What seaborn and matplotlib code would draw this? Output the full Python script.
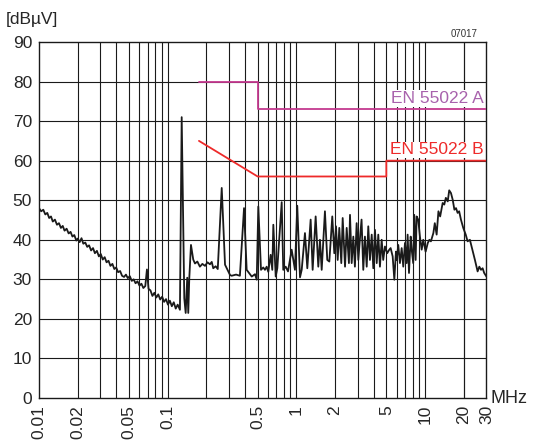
import numpy as np
import pandas as pd
import matplotlib
matplotlib.use('Agg')
import matplotlib.pyplot as plt
import seaborn as sns

freq = [0.0100, 0.0104, 0.0108, 0.0112, 0.0116, 0.0120, 0.0124, 0.0128, 0.0133, 0.0138,
        0.0143, 0.0148, 0.0153, 0.0158, 0.0164, 0.0170, 0.0176, 0.0182, 0.0188, 0.0195,
        0.0200, 0.0207, 0.0214, 0.0221, 0.0229, 0.0237, 0.0245, 0.0254, 0.0263, 0.0272,
        0.0282, 0.0292, 0.0302, 0.0313, 0.0324, 0.0335, 0.0347, 0.0359, 0.0372, 0.0385,
        0.0398, 0.0412, 0.0427, 0.0442, 0.0458, 0.0474, 0.0490, 0.0508, 0.0526, 0.0544,
        0.0563, 0.0583, 0.0604, 0.0625, 0.0647, 0.0670, 0.0690, 0.0710, 0.0735, 0.0761,
        0.0788, 0.0816, 0.0845, 0.0875, 0.0906, 0.0938, 0.0971, 0.1005, 0.1040, 0.1077,
        0.1115, 0.1155, 0.1196, 0.1245, 0.1285, 0.1346, 0.1380, 0.1419, 0.1445, 0.1472,
        0.1517, 0.158, 0.163, 0.170, 0.178, 0.186, 0.195, 0.204, 0.213, 0.220,
        0.226, 0.236, 0.245, 0.263, 0.279, 0.305, 0.314, 0.340, 0.364, 0.392,
        0.411, 0.450, 0.477, 0.492, 0.506, 0.531, 0.553, 0.570, 0.588, 0.605,
        0.631, 0.650, 0.662, 0.691, 0.711, 0.769, 0.791, 0.826, 0.861, 0.919,
        0.975, 1.016, 1.067, 1.10, 1.166, 1.216, 1.291, 1.338, 1.412, 1.480,
        1.525, 1.573, 1.667, 1.738, 1.803, 1.901, 1.971, 2.032, 2.094, 2.155,
        2.234, 2.29, 2.388, 2.46, 2.56, 2.61, 2.69, 2.77, 2.85, 2.94,
        3.03, 3.12, 3.21, 3.31, 3.41, 3.52, 3.62, 3.73, 3.85, 3.96,
        4.08, 4.21, 4.33, 4.46, 4.60, 4.73, 4.88, 5.08, 5.27, 5.40,
        5.60, 5.77, 5.94, 6.02, 6.19, 6.38, 6.58, 6.77, 6.98, 7.19,
        7.32, 7.50, 7.73, 7.87, 8.09, 8.24, 8.45, 8.60, 8.85, 9.12,
        9.41, 9.68, 10.1, 10.5, 10.8, 11.1, 11.6, 11.9, 12.3, 12.7,
        13.1, 13.7, 14.1, 14.5, 15.0, 15.4, 15.9, 16.4, 16.9, 17.4,
        17.9, 18.4, 19.0, 19.8, 20.7, 21.4, 22.3, 23.3, 24.4, 25.6,
        26.4, 27.2, 28.0, 28.8, 30.0]
level = [48.0, 47.2, 47.6, 46.4, 46.8, 45.5, 45.9, 44.6, 45.1, 43.8,
         44.2, 43.0, 43.5, 42.3, 42.8, 41.6, 42.0, 40.8, 41.2, 39.8,
         40.3, 39.4, 40.4, 39.0, 39.3, 38.2, 38.6, 37.3, 37.9, 36.6,
         37.2, 35.8, 36.4, 35.0, 35.6, 34.3, 34.7, 33.4, 33.9, 32.6,
         33.0, 31.8, 32.1, 30.9, 30.6, 31.2, 30.3, 30.8, 29.6, 30.0,
         29.0, 29.5, 28.4, 28.9, 27.8, 28.3, 32.5, 27.6, 27.2, 25.8,
         26.6, 25.4, 26.2, 24.9, 25.6, 24.3, 25.0, 23.6, 24.6, 23.2,
         24.2, 22.6, 23.6, 22.3, 71.0, 25.2, 21.5, 30.4, 21.5, 30.3,
         38.7, 35.0, 34.0, 34.5, 33.2, 33.9, 33.4, 34.3, 33.8, 34.4,
         32.8, 33.3, 32.6, 53.1, 33.7, 31.1, 30.9, 31.2, 30.9, 48.0,
         32.4, 30.7, 31.3, 29.9, 48.4, 32.4, 33.0, 32.4, 33.2, 31.9,
         36.2, 32.4, 43.8, 30.7, 32.8, 49.5, 32.4, 33.2, 32.0, 37.5,
         32.4, 48.6, 30.5, 32.4, 41.7, 32.8, 45.1, 32.4, 45.9, 33.2,
         40.0, 32.4, 47.2, 34.9, 34.5, 45.9, 36.6, 43.4, 34.9, 43.0,
         34.1, 45.5, 33.2, 43.0, 34.1, 46.3, 34.1, 40.8, 33.2, 44.2,
         34.9, 40.4, 45.1, 32.4, 40.8, 33.2, 43.4, 34.9, 41.3, 32.8,
         42.5, 34.1, 41.3, 33.2, 40.0, 34.9, 38.3, 36.6, 37.5, 37.9,
         35.8, 29.9, 37.0, 34.9, 38.7, 34.1, 37.9, 33.2, 39.2, 34.1,
         41.3, 31.6, 40.8, 37.5, 34.1, 46.3, 34.9, 45.9, 45.1, 40.8,
         37.5, 40.0, 37.0, 39.2, 40.0, 39.6, 41.7, 44.2, 41.3, 47.2,
         45.9, 49.3, 48.9, 50.6, 49.7, 52.5, 51.8, 50.1, 47.6, 48.0,
         46.8, 47.2, 45.1, 43.0, 41.3, 39.6, 40.0, 37.5, 34.9, 32.0,
         33.2, 32.4, 32.8, 31.6, 30.7]

# limit lines
limit_a_freq = [0.175, 0.5, 0.5, 30]
limit_a_level = [80, 80, 73, 73]
limit_b_freq = [0.175, 0.5, 5, 5, 30]
limit_b_level = [65, 56, 56, 60, 60]

xticks = [0.01, 0.02, 0.05, 0.1, 0.5, 1, 2, 5, 10, 20, 30]
xticklabels = ['0.01', '0.02', '0.05', '0.1', '0.5', '1', '2', '5', '10', '20', '30']
yticks = [0, 10, 20, 30, 40, 50, 60, 70, 80, 90]

sns.set_style('white')
plt.rcParams['font.family'] = ['Liberation Sans', 'DejaVu Sans']

fig = plt.figure(figsize=(5.34, 4.43), dpi=100)
ax = fig.add_axes([0.073, 0.1016, 0.838, 0.8036])

df = pd.DataFrame({'freq': freq, 'level': level})
sns.lineplot(data=df, x='freq', y='level', ax=ax, color='#1a1a1a', lw=1.3,
             sort=False, estimator=None, zorder=4)
ax.plot(limit_a_freq, limit_a_level, color='#c4398f', lw=1.3, zorder=3)
ax.plot(limit_b_freq, limit_b_level, color='#ee2a2a', lw=1.3, zorder=3)

ax.set_xscale('log')
ax.set_xlim(0.01, 30)
ax.set_ylim(0, 90)

# grid at every 1..9 multiple of each decade
grid_x = [m * 10.0 ** e for e in range(-2, 2) for m in range(1, 10)] + [20, 30]
for gx in grid_x:
    if 0.01 < gx < 30:
        ax.axvline(gx, color='#1a1a1a', lw=0.8, zorder=1)
for gy in yticks[1:-1]:
    ax.axhline(gy, color='#1a1a1a', lw=0.8, zorder=1)

ax.set_xticks(xticks)
ax.set_xticklabels(xticklabels, rotation=90, fontsize=12.5)
ax.xaxis.set_minor_locator(matplotlib.ticker.NullLocator())
ax.set_yticks(yticks)
ax.set_yticklabels([str(v) for v in yticks], fontsize=12.5)
ax.tick_params(length=0, pad=5)
ax.set_xlabel('')
ax.set_ylabel('')
for s in ax.spines.values():
    s.set_color('#1a1a1a')
    s.set_linewidth(1.0)

ax.text(28.5, 73.8, 'EN 55022 A', color='#a862ac', fontsize=12.5, ha='right', va='bottom', zorder=5,
        bbox=dict(facecolor='white', edgecolor='none', pad=0.5))
ax.text(28.5, 60.8, 'EN 55022 B', color='#ee2a2a', fontsize=12.5, ha='right', va='bottom', zorder=5,
        bbox=dict(facecolor='white', edgecolor='none', pad=0.5))
fig.text(0.01, 0.94, '[dBµV]', fontsize=12.5, ha='left', va='bottom')
fig.text(0.895, 0.911, '07017', fontsize=7, ha='right', va='bottom', color='#333333')
fig.text(0.919, 0.1, 'MHz', fontsize=13, ha='left', va='center')

fig.savefig('out.png', dpi=100)
